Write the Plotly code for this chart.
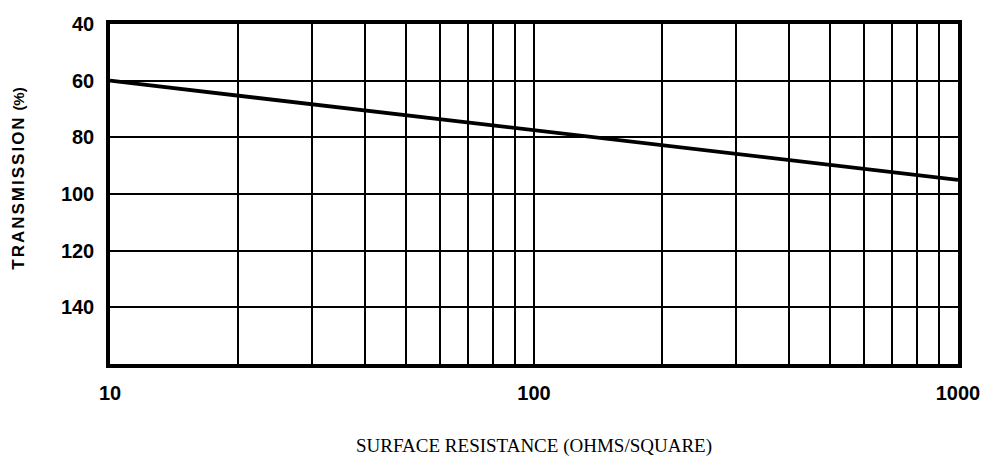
import plotly.graph_objects as go

# Transmission vs. surface resistance (log scale)
resistance = [10, 100, 1000]
transmission = [60, 77.5, 95]

# Grid positions along the log axis and which ones carry labels
x_grid = [10, 20, 30, 40, 50, 60, 70, 80, 90,
          100, 200, 300, 400, 500, 600, 700, 800, 900, 1000]
x_labels = {10: "10", 100: "100", 1000: "1000"}
y_ticks = [40, 60, 80, 100, 120, 140]

tick_font = dict(family="Liberation Sans Narrow, Liberation Sans, Arial", size=20,
                 color="black", weight="bold")

fig = go.Figure()
fig.add_trace(go.Scatter(
    x=resistance, y=transmission, mode="lines",
    line=dict(color="black", width=3.8),
    showlegend=False, hoverinfo="skip",
))

fig.update_layout(
    width=981, height=457,
    margin=dict(l=110, r=23, t=24, b=93),
    paper_bgcolor="white", plot_bgcolor="white",
)

fig.update_xaxes(
    type="log", range=[1 - 1e-6, 3 + 1e-6], automargin=False,
    tickmode="array", tickvals=x_grid,
    ticktext=[x_labels.get(v, "") for v in x_grid],
    tickfont=tick_font, ticks="", ticklabelstandoff=8,
    showgrid=True, gridcolor="black", gridwidth=1.6,
    showline=True, mirror=True, linecolor="black", linewidth=3.5,
    zeroline=False,
    title=dict(text="SURFACE RESISTANCE (OHMS/SQUARE)",
               font=dict(family="Liberation Serif, Times New Roman", size=19, color="black"),
               standoff=42),
)

fig.update_yaxes(
    range=[160, 40], autorange=False, automargin=False,
    tickmode="array", tickvals=y_ticks,
    tickfont=tick_font, ticks="", ticklabelstandoff=8,
    showgrid=True, gridcolor="black", gridwidth=1.6,
    showline=True, mirror=True, linecolor="black", linewidth=3.5,
    zeroline=False,
)

# Vertical axis title, set a little above the plot's centre line
fig.add_annotation(
    text="<span style='letter-spacing:2px'>TRANSMISSION</span> "
         "<span style='font-size:15px'>(%)</span>",
    xref="paper", yref="paper", x=0, y=0.545,
    xanchor="center", yanchor="middle", xshift=-91,
    textangle=-90, showarrow=False,
    font=dict(family="Liberation Sans, Arial", size=17, color="black", weight="bold"),
)

fig.write_html("out.html")
